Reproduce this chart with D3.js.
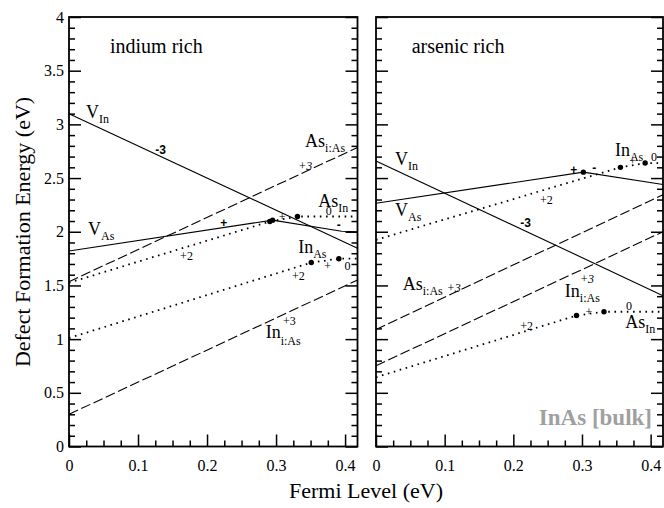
<!DOCTYPE html>
<html>
<head>
<meta charset="utf-8">
<script src="https://cdn.jsdelivr.net/npm/d3@7"></script>
<style>
body{margin:0;background:#fff;}
text{font-family:"Liberation Serif","Times New Roman",serif;fill:#000;}
</style>
</head>
<body>
<div id="chart"></div>
<script>
// ---- data ----
var xMajor = [0, 0.1, 0.2, 0.3, 0.4];
var yMajor = [0, 0.5, 1, 1.5, 2, 2.5, 3, 3.5, 4];
var yLabels = ["0", "0.5", "1", "1.5", "2", "2.5", "3", "3.5", "4"];
var fermiMax = 0.418;

// indium rich : [fermi, energy] vertices
var vInInRich   = [[0, 3.10], [0.418, 1.846]];
var vAsInRich   = [[0, 1.82], [0.295, 2.108], [0.395, 2.005], [0.418, 2.0]];
var asiInRich   = [[0, 1.535], [0.418, 2.785]];
var iniInRich   = [[0, 0.30], [0.418, 1.55]];
var asInInRich  = [[0, 1.525], [0.291, 2.095], [0.331, 2.142], [0.418, 2.142]];
var inAsInRich  = [[0, 1.01], [0.351, 1.713], [0.391, 1.749], [0.418, 1.749]];
var dotsInRich  = [[0.291, 2.095], [0.295, 2.108], [0.331, 2.142], [0.351, 1.713], [0.391, 1.749]];

// arsenic rich
var vInAsRich   = [[0, 2.66], [0.418, 1.405]];
var vAsAsRich   = [[0, 2.265], [0.302, 2.555], [0.418, 2.44]];
var asiAsRich   = [[0, 1.09], [0.418, 2.345]];
var iniAsRich   = [[0, 0.752], [0.418, 2.0]];
var asInAsRich  = [[0, 0.645], [0.292, 1.22], [0.332, 1.255], [0.418, 1.255]];
var inAsAsRich  = [[0, 1.925], [0.356, 2.60], [0.392, 2.64], [0.418, 2.64]];
var dotsAsRich  = [[0.302, 2.555], [0.356, 2.60], [0.392, 2.64], [0.292, 1.22], [0.332, 1.255]];

// labels: [fermi, energy, main text, subscript, kind]
var labelsInRich = [
  [0.0246, 3.06, "V", "In", "name"],
  [0.125, 2.72, "-3", "", "bold"],
  [0.342, 2.79, "As", "i:As", "name"],
  [0.332, 2.575, "+3", "", "ital"],
  [0.361, 2.23, "As", "In", "name"],
  [0.372, 2.155, "0", "", "plain"],
  [0.219, 2.045, "+", "", "bold"],
  [0.304, 2.10, "+", "", "plain"],
  [0.388, 2.025, "-", "", "bold"],
  [0.0275, 1.97, "V", "As", "name"],
  [0.161, 1.74, "+2", "", "plain"],
  [0.332, 1.80, "In", "As", "name"],
  [0.323, 1.55, "+2", "", "plain"],
  [0.370, 1.645, "+", "", "plain"],
  [0.399, 1.645, "0", "", "plain"],
  [0.310, 1.13, "+3", "", "plain"],
  [0.285, 1.01, "In", "i:As", "namelow"]
];
var labelsAsRich = [
  [0.0277, 2.62, "V", "In", "name"],
  [0.0277, 2.148, "V", "As", "name"],
  [0.210, 2.04, "-3", "", "bold"],
  [0.239, 2.26, "+2", "", "plain"],
  [0.283, 2.54, "+", "", "bold"],
  [0.315, 2.56, "-", "", "bold"],
  [0.348, 2.705, "In", "As", "name"],
  [0.369, 2.617, "+", "", "plain"],
  [0.4005, 2.66, "0", "", "plain"],
  [0.039, 1.457, "As", "i:As", "name"],
  [0.103, 1.44, "+3", "", "ital"],
  [0.275, 1.39, "In", "i:As", "name"],
  [0.297, 1.525, "+3", "", "ital"],
  [0.210, 1.085, "+2", "", "plain"],
  [0.305, 1.218, "+", "", "plain"],
  [0.364, 1.275, "0", "", "plain"],
  [0.363, 1.105, "As", "In", "name"]
];

var panels = [
  {title: "indium rich", left: 69, right: 357.5, titleAt: [0.0594, 3.665],
   solid: [vInInRich, vAsInRich], dashed: [asiInRich, iniInRich], dotted: [asInInRich, inAsInRich],
   dots: dotsInRich, labels: labelsInRich, yText: true},
  {title: "arsenic rich", left: 376, right: 663, titleAt: [0.052, 3.665],
   solid: [vInAsRich, vAsAsRich], dashed: [asiAsRich, iniAsRich], dotted: [asInAsRich, inAsAsRich],
   dots: dotsAsRich, labels: labelsAsRich, yText: false}
];

var W = 664, H = 508, plotTop = 17, plotBottom = 446.5;

var svg = d3.select("#chart").append("svg")
    .attr("width", W)
    .attr("height", H);

var y = d3.scaleLinear().domain([0, 4]).range([plotBottom, plotTop]);
var yMinor = d3.range(0, 4.001, 0.1).filter(function(v){ return Math.abs(v*2 - Math.round(v*2)) > 1e-6; });
var xMinor = d3.range(0, 0.4001, 0.025).filter(function(v){ return Math.abs(v*10 - Math.round(v*10)) > 1e-6; });

panels.forEach(function(p) {
  var x = d3.scaleLinear().domain([0, fermiMax]).range([p.left, p.right]);
  var g = svg.append("g");

  var line = d3.line()
      .x(function(d){ return x(d[0]); })
      .y(function(d){ return y(d[1]); });

  // ticks
  var ax;
  ax = g.append("g").attr("transform", "translate(0," + plotBottom + ")")
      .call(d3.axisBottom(x).tickValues(xMajor).tickSize(-12).tickPadding(13).tickFormat(d3.format("")));
  ax.select(".domain").remove();
  ax = g.append("g").attr("transform", "translate(0," + plotBottom + ")")
      .call(d3.axisBottom(x).tickValues(xMinor).tickSize(-6).tickFormat(""));
  ax.select(".domain").remove();

  ax = g.append("g").attr("transform", "translate(" + p.left + ",0)")
      .call(d3.axisLeft(y).tickValues(yMajor).tickSize(-12).tickPadding(5)
        .tickFormat(function(d, i){ return p.yText ? yLabels[i] : ""; }));
  ax.select(".domain").remove();
  ax = g.append("g").attr("transform", "translate(" + p.left + ",0)")
      .call(d3.axisLeft(y).tickValues(yMinor).tickSize(-6).tickFormat(""));
  ax.select(".domain").remove();

  ax = g.append("g").attr("transform", "translate(" + p.right + ",0)")
      .call(d3.axisRight(y).tickValues(yMajor).tickSize(-12).tickFormat(""));
  ax.select(".domain").remove();
  ax = g.append("g").attr("transform", "translate(" + p.right + ",0)")
      .call(d3.axisRight(y).tickValues(yMinor).tickSize(-6).tickFormat(""));
  ax.select(".domain").remove();

  g.selectAll(".tick line").attr("stroke", "#000").attr("stroke-width", 1.5);
  g.selectAll(".tick text")
      .style("font-family", "'Liberation Serif','Times New Roman',serif")
      .style("font-size", "16px").attr("fill", "#000");

  // lines
  g.selectAll(".solid").data(p.solid).enter().append("path")
      .attr("d", line).attr("fill", "none").attr("stroke", "#000").attr("stroke-width", 1.1);
  g.selectAll(".dashed").data(p.dashed).enter().append("path")
      .attr("d", line).attr("fill", "none").attr("stroke", "#000").attr("stroke-width", 1.1)
      .attr("stroke-dasharray", "10,3.5");
  g.selectAll(".dotted").data(p.dotted).enter().append("path")
      .attr("d", line).attr("fill", "none").attr("stroke", "#000").attr("stroke-width", 1.8)
      .attr("stroke-dasharray", "1.6,4.6");

  g.selectAll("circle").data(p.dots).enter().append("circle")
      .attr("cx", function(d){ return x(d[0]); })
      .attr("cy", function(d){ return y(d[1]); })
      .attr("r", 2.7).attr("fill", "#000");

  // frame
  g.append("rect")
      .attr("x", p.left).attr("y", plotTop)
      .attr("width", p.right - p.left).attr("height", plotBottom - plotTop)
      .attr("fill", "none").attr("stroke", "#000").attr("stroke-width", 1.8);

  g.append("text")
      .attr("x", x(p.titleAt[0])).attr("y", y(p.titleAt[1]))
      .style("font-size", "20px").text(p.title);

  p.labels.forEach(function(l) {
    var t = g.append("text").attr("x", x(l[0])).attr("y", y(l[1]));
    if (l[4] === "name" || l[4] === "namelow") {
      t.append("tspan").style("font-size", "18px").text(l[2]);
      t.append("tspan").style("font-size", "12px")
        .attr("dy", l[4] === "namelow" ? 7 : 5).text(l[3]);
    } else {
      t.style("font-size", "12px").text(l[2]);
      if (l[4] === "bold") t.style("font-weight", "bold").style("font-family", "'Liberation Sans',Arial,sans-serif");
      if (l[4] === "ital") t.style("font-style", "italic");
    }
  });
});

// watermark
svg.append("text")
    .attr("x", 652).attr("y", 425)
    .attr("text-anchor", "end")
    .style("font-size", "23px").style("font-weight", "bold")
    .style("fill", "#a0a0a0")
    .text("InAs [bulk]");

// axis titles
svg.append("text")
    .attr("transform", "translate(30,232) rotate(-90)")
    .attr("text-anchor", "middle")
    .style("font-size", "22px")
    .text("Defect Formation Energy (eV)");
svg.append("text")
    .attr("x", 366).attr("y", 498)
    .attr("text-anchor", "middle")
    .style("font-size", "22px")
    .text("Fermi Level (eV)");
</script>
</body>
</html>
